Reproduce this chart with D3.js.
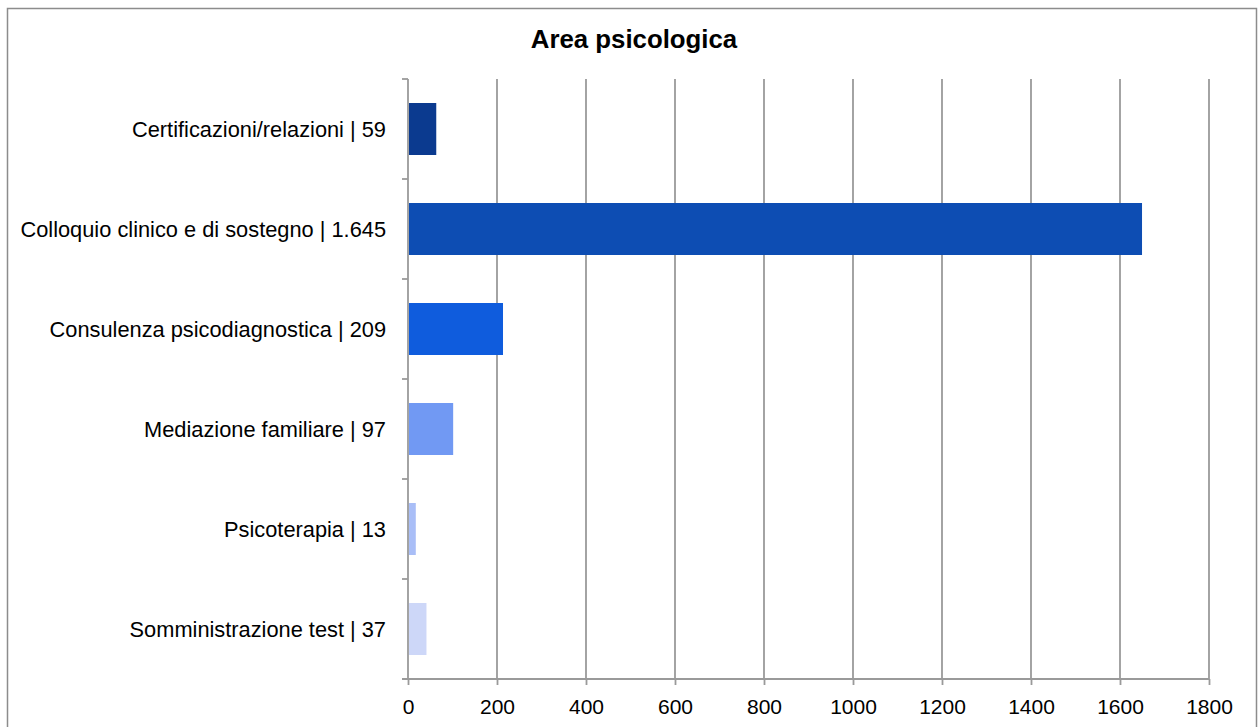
<!DOCTYPE html>
<html>
<head>
<meta charset="utf-8">
<script src="https://cdn.jsdelivr.net/npm/d3@7"></script>
<style>
  body { margin: 0; background: #fff; overflow: hidden; }
  svg { display: block; }
  text { font-family: "Liberation Sans", Arial, sans-serif; fill: #000; }
</style>
</head>
<body>
<svg id="chart" width="1258" height="727"></svg>
<script>
const categories = [
  "Certificazioni/relazioni | 59",
  "Colloquio clinico e di sostegno | 1.645",
  "Consulenza psicodiagnostica | 209",
  "Mediazione familiare | 97",
  "Psicoterapia | 13",
  "Somministrazione test | 37"
];
const values = [59, 1645, 209, 97, 13, 37];
const barColors = ["#0b3a8f", "#0d4db3", "#0f5cdd", "#7199f3", "#a9bef7", "#cdd7f8"];
const xTicks = [0, 200, 400, 600, 800, 1000, 1200, 1400, 1600, 1800];
const title = "Area psicologica";

const svg = d3.select("#chart");
const margin = { left: 408, top: 79, right: 49, bottom: 48 };
const innerWidth = 1209 - margin.left;
const innerHeight = 679 - margin.top;

// outer frame (bottom edge runs past the picture)
svg.append("path")
  .attr("d", "M7.5,727V8.5H1256.5V727")
  .attr("fill", "none")
  .attr("stroke", "#8c8c8c")
  .attr("stroke-width", 1.5);

svg.append("text")
  .attr("x", 634).attr("y", 48)
  .attr("text-anchor", "middle")
  .style("font-size", "25.8px")
  .style("font-weight", "bold")
  .text(title);

const g = svg.append("g").attr("transform", `translate(${margin.left},${margin.top})`);

const xScale = d3.scaleLinear().domain([0, 1800]).range([0, innerWidth]);
const yScale = d3.scaleBand().domain(categories).range([0, innerHeight])
  .paddingInner(0.48).paddingOuter(0.24);

// vertical gridlines
g.append("g").attr("class", "grid")
  .selectAll("line").data(xTicks.slice(1)).enter().append("line")
    .attr("x1", d => xScale(d)).attr("x2", d => xScale(d))
    .attr("y1", 0).attr("y2", innerHeight)
    .attr("stroke", "#9a9a9a").attr("stroke-width", 1.8);

// bars
g.append("g").selectAll("rect").data(values).enter().append("rect")
  .attr("x", xScale(0) + 1)
  .attr("y", (d, i) => yScale(categories[i]))
  .attr("width", d => xScale(d) + 1)
  .attr("height", yScale.bandwidth())
  .attr("fill", (d, i) => barColors[i]);

// x axis
const xAxis = d3.axisBottom(xScale).tickValues(xTicks).tickSize(6).tickPadding(14)
  .tickFormat(d3.format("d"));
const xAxisG = g.append("g").attr("transform", `translate(0,${innerHeight})`).call(xAxis);
xAxisG.select(".domain").attr("stroke", "#9a9a9a").attr("stroke-width", 1.8)
  .attr("d", `M-6,0H${innerWidth}`);
xAxisG.selectAll(".tick line").attr("stroke", "#9a9a9a").attr("stroke-width", 1.8);
xAxisG.selectAll(".tick text").style("font-size", "21px")
  .style("font-family", "'Liberation Sans', Arial, sans-serif").attr("fill", "#000");

// y axis: ticks at band boundaries
const yEdges = d3.range(categories.length + 1).map(i => i * yScale.step());
const yAxisG = g.append("g");
yAxisG.append("line")
  .attr("x1", 0).attr("x2", 0).attr("y1", 0).attr("y2", innerHeight)
  .attr("stroke", "#9a9a9a").attr("stroke-width", 1.8);
yAxisG.selectAll(".edge").data(yEdges).enter().append("line")
  .attr("class", "edge")
  .attr("x1", -6).attr("x2", 0)
  .attr("y1", d => d).attr("y2", d => d)
  .attr("stroke", "#9a9a9a").attr("stroke-width", 1.8);
yAxisG.selectAll(".cat").data(categories).enter().append("text")
  .attr("class", "cat")
  .attr("x", -22)
  .attr("y", d => yScale(d) + yScale.bandwidth() / 2)
  .attr("dy", "0.36em")
  .attr("text-anchor", "end")
  .style("font-size", "21.8px")
  .text(d => d);
</script>
</body>
</html>
